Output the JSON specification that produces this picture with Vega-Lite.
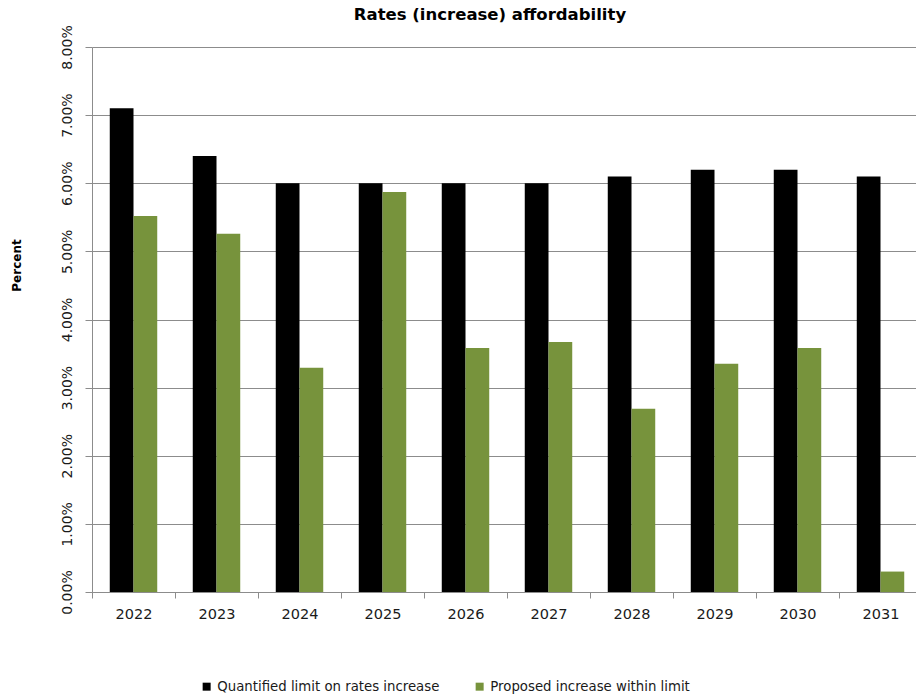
{
  "$schema": "https://vega.github.io/schema/vega-lite/v6.json",
  "autosize": {"type": "none"},
  "padding": {"left": 92, "top": 47, "right": 0, "bottom": 107},
  "width": 830,
  "height": 545,
  "background": "#ffffff",
  "title": {
    "text": "Rates (increase) affordability",
    "font": "DejaVu Sans",
    "fontSize": 16.5,
    "fontWeight": "bold",
    "color": "#000000",
    "anchor": "middle",
    "dx": -17,
    "offset": 1
  },
  "data": {
    "values": [
      {"year": "2022", "series": "Quantified limit on rates increase", "rate": 0.071},
      {"year": "2022", "series": "Proposed increase within limit", "rate": 0.0552},
      {"year": "2023", "series": "Quantified limit on rates increase", "rate": 0.064},
      {"year": "2023", "series": "Proposed increase within limit", "rate": 0.0526},
      {"year": "2024", "series": "Quantified limit on rates increase", "rate": 0.06},
      {"year": "2024", "series": "Proposed increase within limit", "rate": 0.0329},
      {"year": "2025", "series": "Quantified limit on rates increase", "rate": 0.06},
      {"year": "2025", "series": "Proposed increase within limit", "rate": 0.0587},
      {"year": "2026", "series": "Quantified limit on rates increase", "rate": 0.06},
      {"year": "2026", "series": "Proposed increase within limit", "rate": 0.0358},
      {"year": "2027", "series": "Quantified limit on rates increase", "rate": 0.06},
      {"year": "2027", "series": "Proposed increase within limit", "rate": 0.0367},
      {"year": "2028", "series": "Quantified limit on rates increase", "rate": 0.061},
      {"year": "2028", "series": "Proposed increase within limit", "rate": 0.0269},
      {"year": "2029", "series": "Quantified limit on rates increase", "rate": 0.062},
      {"year": "2029", "series": "Proposed increase within limit", "rate": 0.0335},
      {"year": "2030", "series": "Quantified limit on rates increase", "rate": 0.062},
      {"year": "2030", "series": "Proposed increase within limit", "rate": 0.0358},
      {"year": "2031", "series": "Quantified limit on rates increase", "rate": 0.061},
      {"year": "2031", "series": "Proposed increase within limit", "rate": 0.003}
    ]
  },
  "mark": {"type": "bar", "stroke": null},
  "encoding": {
    "x": {
      "field": "year",
      "type": "nominal",
      "title": null,
      "scale": {"paddingInner": 0.428, "paddingOuter": 0.214},
      "axis": {
        "labelAngle": 0,
        "labelFont": "DejaVu Sans",
        "labelFontSize": 14.5,
        "labelColor": "#1a1a1a",
        "labelPadding": 9,
        "tickOffset": -41.5,
        "labelOffset": 41.5,
        "tickSize": 6,
        "tickColor": "#8c8c8c",
        "domainColor": "#8c8c8c",
        "grid": false
      }
    },
    "xOffset": {
      "field": "series",
      "type": "nominal",
      "sort": ["Quantified limit on rates increase", "Proposed increase within limit"],
      "scale": {"paddingInner": 0, "paddingOuter": 0}
    },
    "y": {
      "field": "rate",
      "type": "quantitative",
      "title": "Percent",
      "scale": {"domain": [0, 0.08], "nice": false},
      "axis": {
        "values": [0, 0.01, 0.02, 0.03, 0.04, 0.05, 0.06, 0.07, 0.08],
        "format": ".2%",
        "labelAngle": -90,
        "labelAlign": "center",
        "labelBaseline": "alphabetic",
        "labelPadding": 14,
        "labelFont": "DejaVu Sans",
        "labelFontSize": 14,
        "labelColor": "#1a1a1a",
        "tickSize": 7,
        "tickColor": "#8c8c8c",
        "domainColor": "#8c8c8c",
        "gridColor": "#8c8c8c",
        "gridWidth": 1,
        "titleFont": "DejaVu Sans",
        "titleFontSize": 12,
        "titleFontWeight": "bold",
        "titleColor": "#000000",
        "titleAngle": -90,
        "titleAlign": "center",
        "titleBaseline": "middle",
        "titleX": -76,
        "titleY": 218
      }
    },
    "color": {
      "field": "series",
      "type": "nominal",
      "scale": {
        "domain": ["Quantified limit on rates increase", "Proposed increase within limit"],
        "range": ["#000000", "#77933c"]
      },
      "legend": {
        "title": null,
        "orient": "none",
        "direction": "horizontal",
        "legendX": 108,
        "legendY": 633,
        "padding": 0,
        "symbolType": "square",
        "symbolSize": 64,
        "symbolStrokeWidth": 0,
        "symbolOpacity": 1,
        "labelFont": "DejaVu Sans",
        "labelFontSize": 13.3,
        "labelColor": "#1a1a1a",
        "labelOffset": 4,
        "columnPadding": 33,
        "labelLimit": 400
      }
    }
  },
  "config": {
    "view": {"stroke": null}
  }
}
